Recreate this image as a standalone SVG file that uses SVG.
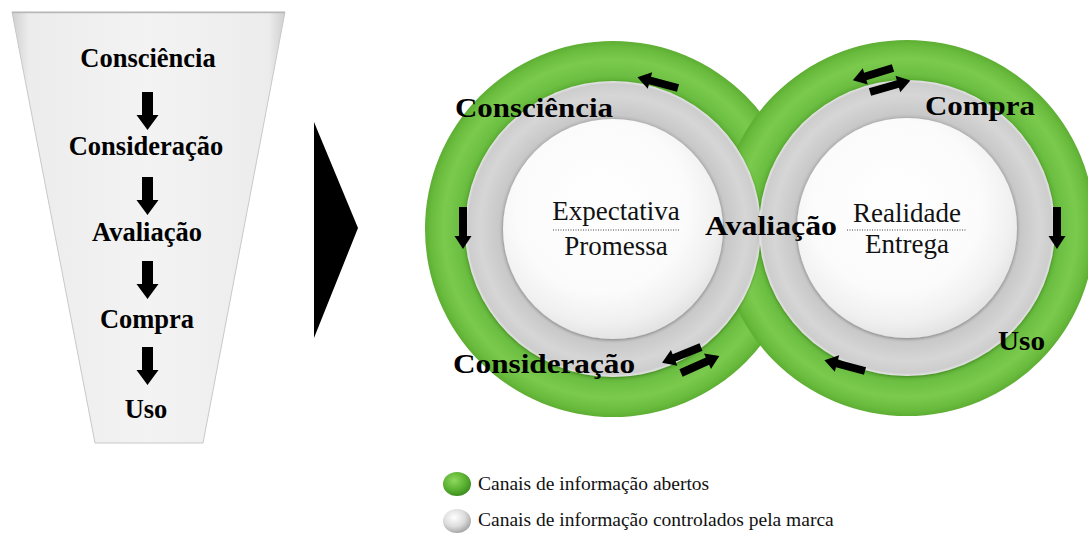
<svg xmlns="http://www.w3.org/2000/svg" width="1088" height="536" viewBox="0 0 1088 536">
<style>
.lbl{font-family:"Liberation Serif","Times New Roman",serif;font-weight:bold;fill:#000}
.flbl{font-size:26.5px;text-anchor:middle}
.clbl{font-size:28px}
.ctr{font-family:"Liberation Serif","Times New Roman",serif;font-size:27px;fill:#111;text-anchor:middle}
.leg{font-family:"Liberation Serif","Times New Roman",serif;font-size:19.5px;fill:#111}
.dots{stroke:#444;stroke-width:1;stroke-dasharray:1 1.5;fill:none}
.arr{fill:#000}
</style>
<defs>
<linearGradient id="gFunnel" x1="0" y1="0" x2="1" y2="0">
<stop offset="0" stop-color="#cfcfcf"/>
<stop offset="0.06" stop-color="#ececec"/>
<stop offset="0.5" stop-color="#f3f3f3"/>
<stop offset="0.94" stop-color="#ececec"/>
<stop offset="1" stop-color="#cfcfcf"/>
</linearGradient>
<radialGradient id="gGreen" cx="0.5" cy="0.5" r="0.5">
<stop offset="0.78" stop-color="#5aae32"/>
<stop offset="0.82" stop-color="#6cbf42"/>
<stop offset="0.9" stop-color="#7bca4e"/>
<stop offset="0.97" stop-color="#69bb3d"/>
<stop offset="1" stop-color="#5dae33"/>
</radialGradient>
<radialGradient id="gGray" cx="0.5" cy="0.5" r="0.5">
<stop offset="0.74" stop-color="#b4b4b4"/>
<stop offset="0.77" stop-color="#c8c8c8"/>
<stop offset="0.9" stop-color="#d6d6d6"/>
<stop offset="0.98" stop-color="#cdcdcd"/>
<stop offset="1" stop-color="#e6e6e6"/>
</radialGradient>
<radialGradient id="gWhite" cx="0.45" cy="0.4" r="0.6">
<stop offset="0" stop-color="#ffffff"/>
<stop offset="0.65" stop-color="#fbfbfb"/>
<stop offset="0.88" stop-color="#f0f0f0"/>
<stop offset="1" stop-color="#e4e4e4"/>
</radialGradient>
<radialGradient id="gLegG" cx="0.4" cy="0.35" r="0.65">
<stop offset="0" stop-color="#8fd860"/>
<stop offset="0.6" stop-color="#5cb332"/>
<stop offset="1" stop-color="#3f8f22"/>
</radialGradient>
<radialGradient id="gLegW" cx="0.4" cy="0.35" r="0.65">
<stop offset="0" stop-color="#ffffff"/>
<stop offset="0.6" stop-color="#dcdcdc"/>
<stop offset="1" stop-color="#a8a8a8"/>
</radialGradient>
<filter id="sh" x="-20%" y="-20%" width="140%" height="140%">
<feDropShadow dx="0" dy="1" stdDeviation="1.5" flood-color="#000" flood-opacity="0.25"/>
</filter>
<path id="ca" d="M0,-4 L29,-4 L29,-8.5 L42,0 L29,8.5 L29,4 L0,4 Z"/>
<path id="fa" d="M-5.5,0 L5.5,0 L5.5,23 L11,23 L0,38 L-11,23 L-5.5,23 Z"/>
</defs>

<g id="funnel">
<polygon points="12,12 285,12 203,443 95,443" fill="url(#gFunnel)" stroke="#c8c8c8" stroke-width="1"/>
<line x1="12" y1="12.5" x2="285" y2="12.5" stroke="#b8b8b8" stroke-width="1.5"/>
</g>

<g id="funnel-labels">
<text class="lbl flbl" x="148" y="67">Consciência</text>
<text class="lbl flbl" x="146" y="155">Consideração</text>
<text class="lbl flbl" x="147" y="241">Avaliação</text>
<text class="lbl flbl" x="147" y="328">Compra</text>
<text class="lbl flbl" x="146" y="418">Uso</text>
</g>

<g id="big-arrow">
<polygon points="314,122 358,228 314,338" fill="#000"/>
</g>

<g id="circle-left-outer"><circle cx="613" cy="229" r="188" fill="url(#gGreen)"/></g>
<g id="circle-right-outer"><circle cx="907" cy="228" r="188" fill="url(#gGreen)"/></g>
<g id="circle-left-mid"><circle cx="613" cy="229" r="148" fill="url(#gGray)" filter="url(#sh)"/></g>
<g id="circle-right-mid"><circle cx="907" cy="228" r="148" fill="url(#gGray)" filter="url(#sh)"/></g>
<g id="circle-left-inner">
<circle cx="613" cy="229" r="110" fill="url(#gWhite)" filter="url(#sh)"/>
<text class="ctr" x="616" y="220">Expectativa</text>
<line class="dots" x1="553" y1="230" x2="680" y2="230"/>
<text class="ctr" x="616" y="255">Promessa</text>
</g>
<g id="circle-right-inner">
<circle cx="907" cy="228" r="110" fill="url(#gWhite)" filter="url(#sh)"/>
<text class="ctr" x="907" y="222">Realidade</text>
<line class="dots" x1="847" y1="230" x2="967" y2="230"/>
<text class="ctr" x="907" y="253">Entrega</text>
</g>

<g id="circle-labels">
<text class="lbl clbl" x="455" y="117" textLength="158" lengthAdjust="spacingAndGlyphs">Consciência</text>
<text class="lbl clbl" x="453" y="373" textLength="182" lengthAdjust="spacingAndGlyphs">Consideração</text>
<text class="lbl clbl" x="705" y="235" textLength="132" lengthAdjust="spacingAndGlyphs">Avaliação</text>
<text class="lbl clbl" x="925" y="115" textLength="110" lengthAdjust="spacingAndGlyphs">Compra</text>
<text class="lbl clbl" x="998" y="350" textLength="47" lengthAdjust="spacingAndGlyphs">Uso</text>
</g>

<g id="connectors">
<use href="#fa" class="arr" x="147.5" y="92"/>
<use href="#fa" class="arr" x="147.5" y="177"/>
<use href="#fa" class="arr" x="147.5" y="261"/>
<use href="#fa" class="arr" x="147.5" y="347"/>
<use href="#ca" class="arr" transform="translate(678,88) rotate(195)"/>
<use href="#ca" class="arr" transform="translate(463,207) rotate(90)"/>
<use href="#ca" class="arr" transform="translate(701,347) rotate(158)"/>
<use href="#ca" class="arr" transform="translate(681,373) rotate(-24)"/>
<use href="#ca" class="arr" transform="translate(893,68) rotate(163)"/>
<use href="#ca" class="arr" transform="translate(870,92) rotate(-16)"/>
<use href="#ca" class="arr" transform="translate(1057,207) rotate(90)"/>
<use href="#ca" class="arr" transform="translate(865,371) rotate(195)"/>
</g>

<g id="legend">
<ellipse cx="457" cy="484" rx="14" ry="12" fill="url(#gLegG)"/>
<text class="leg" x="478" y="490">Canais de informação abertos</text>
<ellipse cx="457" cy="521" rx="14" ry="12" fill="url(#gLegW)"/>
<text class="leg" x="478" y="526">Canais de informação controlados pela marca</text>
</g>
</svg>
